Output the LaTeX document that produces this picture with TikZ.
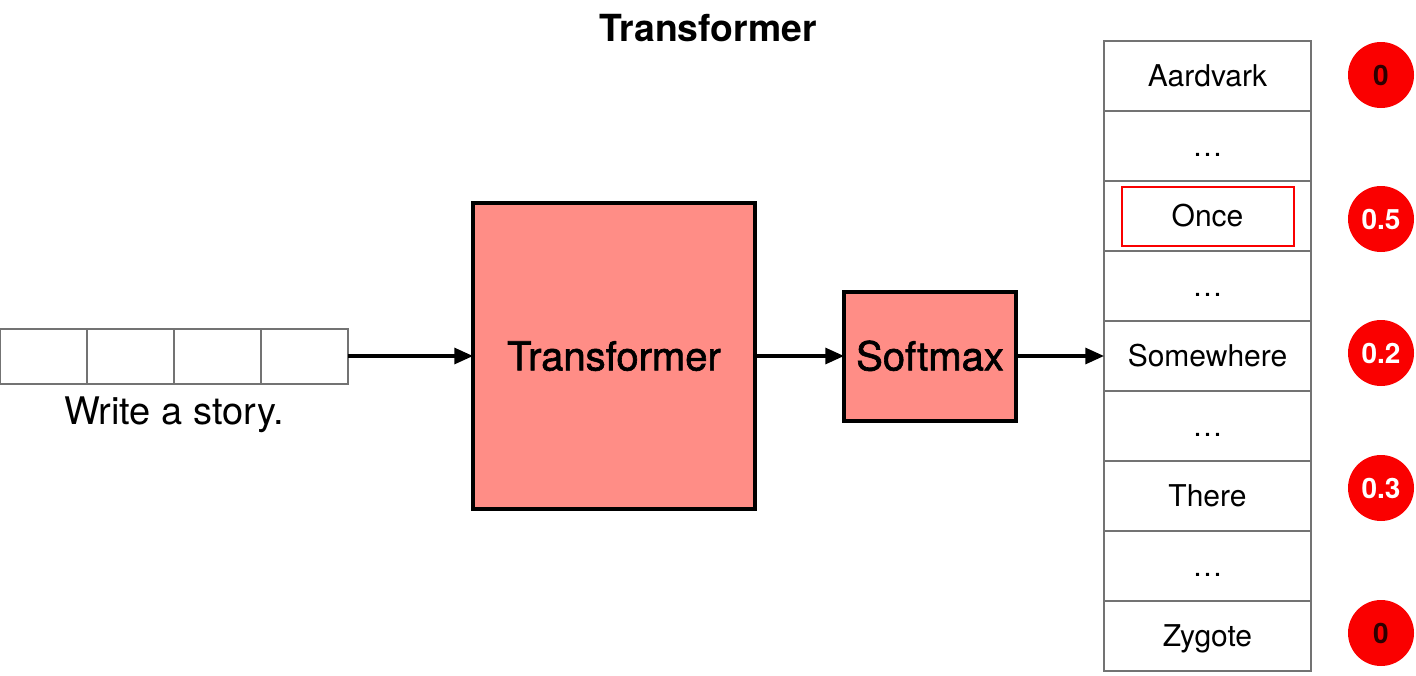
\documentclass[tikz,border=0pt]{standalone}
\usepackage{fontspec}
\setmainfont{TeX Gyre Heros}
\newfontfamily\medfont{TeX Gyre Heros}[FakeBold=1.6]
\usetikzlibrary{arrows.meta}
\definecolor{salmon}{RGB}{255,141,134}
\definecolor{cellgray}{RGB}{115,115,115}
\definecolor{dotred}{RGB}{250,0,0}
\definecolor{darktxt}{RGB}{45,0,0}
\tikzset{
  block/.style={draw=black, line width=3pt, fill=salmon, inner sep=0pt, outer sep=0pt,
    font=\medfont\fontsize{30}{32}\selectfont, text height=21.6pt, text depth=0pt},
  incell/.style={draw=cellgray, line width=1.5pt, minimum width=65.25pt, minimum height=41.25pt,
    inner sep=0pt, outer sep=0pt},
  vcell/.style={draw=cellgray, line width=1.5pt, fill=white, minimum width=155.25pt, minimum height=52.5pt,
    inner sep=0pt, outer sep=0pt, font=\fontsize{22.5}{24}\selectfont, text height=16.2pt, text depth=0pt},
  prob/.style={circle, fill=dotred, minimum size=49.5pt, inner sep=0pt,
    font=\bfseries\fontsize{21}{22}\selectfont, text height=15pt, text depth=0pt},
  flow/.style={line width=2.3pt, -{Triangle[length=14pt,width=12pt]}},
  hilite/.style={draw=dotred, line width=1.4pt, minimum width=129pt, minimum height=44.25pt, inner sep=0pt}
}
\begin{document}
\begin{tikzpicture}[x=0.75pt,y=-0.75pt]
\useasboundingbox (0,0) rectangle (1416,675);
% title
\node[font=\bfseries\fontsize{28}{30}\selectfont, text height=20.2pt, text depth=0pt] (title) at (708,28) {Transformer};
% input cells
\node[incell] (c1) at (43.5,356) {};
\node[incell] (c2) at (130.5,356) {};
\node[incell] (c3) at (217.5,356) {};
\node[incell] (c4) at (304.5,356) {};
\node[font=\fontsize{28.5}{30}\selectfont, text height=20.5pt, text depth=0pt] (prompt) at (174,411) {Write a story.};
% blocks
\node[block, minimum width=211.5pt, minimum height=230pt] (tr) at (614,356) {Transformer};
\node[block, minimum width=129pt, minimum height=96.75pt] (sm) at (930,356) {Softmax};
% vocabulary
\node[vcell] (v1) at (1207.5,76) {Aardvark};
\node[vcell] (v2) at (1207.5,146) {…};
\node[vcell] (v3) at (1207.5,216) {Once};
\node[vcell] (v4) at (1207.5,286) {…};
\node[vcell] (v5) at (1207.5,356) {Somewhere};
\node[vcell] (v6) at (1207.5,426) {…};
\node[vcell] (v7) at (1207.5,496) {There};
\node[vcell] (v8) at (1207.5,566) {…};
\node[vcell] (v9) at (1207.5,636) {Zygote};
\node[hilite] (hl) at (1208,216.5) {};
% probabilities
\node[prob, text=darktxt] (p1) at (1381,75) {0};
\node[prob, text=white] (p3) at (1381,219) {0.5};
\node[prob, text=white] (p5) at (1381,353) {0.2};
\node[prob, text=white] (p7) at (1381,488) {0.3};
\node[prob, text=darktxt] (p9) at (1381,633) {0};
% connectors
\draw[flow] (c4.east) -- (tr.west);
\draw[flow] (tr.east) -- (sm.west);
\draw[flow] (sm.east) -- (v5.west);
\end{tikzpicture}
\end{document}
